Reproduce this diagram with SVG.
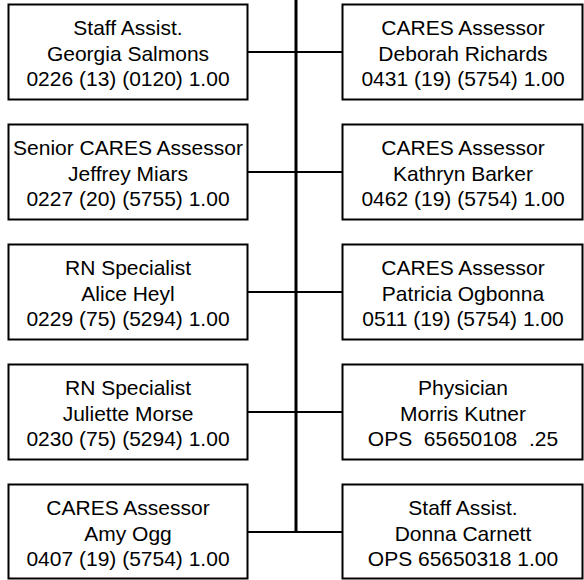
<svg xmlns="http://www.w3.org/2000/svg" width="584" height="580" viewBox="0 0 584 580">
<style>
.box{fill:#fff;stroke:#000;stroke-width:2}
.t{font-family:"Liberation Sans",Arial,sans-serif;font-size:21px;fill:#000;text-anchor:middle;white-space:pre}
.c{stroke:#000;stroke-width:2;fill:none}
.v{stroke:#000;stroke-width:3;fill:none}
</style>
<rect width="584" height="580" fill="#fff"/>
<g id="connectors">
<line class="v" x1="296" y1="0" x2="296" y2="532"/>
<line class="c" x1="247.5" y1="52" x2="342.5" y2="52"/>
<line class="c" x1="247.5" y1="172" x2="342.5" y2="172"/>
<line class="c" x1="247.5" y1="292" x2="342.5" y2="292"/>
<line class="c" x1="247.5" y1="412" x2="342.5" y2="412"/>
<line class="c" x1="247.5" y1="532" x2="342.5" y2="532"/>
</g>
<g id="n1"><rect class="box" x="8.5" y="4.5" width="239" height="95"/>
<text class="t" x="128" y="35">Staff Assist.</text><text class="t" x="128" y="60.5">Georgia Salmons</text><text class="t" x="128" y="86">0226 (13) (0120) 1.00</text></g>
<g id="n2"><rect class="box" x="8.5" y="124.5" width="239" height="95"/>
<text class="t" x="128" y="155">Senior CARES Assessor</text><text class="t" x="128" y="180.5">Jeffrey Miars</text><text class="t" x="128" y="206">0227 (20) (5755) 1.00</text></g>
<g id="n3"><rect class="box" x="8.5" y="244.5" width="239" height="95"/>
<text class="t" x="128" y="275">RN Specialist</text><text class="t" x="128" y="300.5">Alice Heyl</text><text class="t" x="128" y="326">0229 (75) (5294) 1.00</text></g>
<g id="n4"><rect class="box" x="8.5" y="364.5" width="239" height="95"/>
<text class="t" x="128" y="395">RN Specialist</text><text class="t" x="128" y="420.5">Juliette Morse</text><text class="t" x="128" y="446">0230 (75) (5294) 1.00</text></g>
<g id="n5"><rect class="box" x="8.5" y="484.5" width="239" height="94"/>
<text class="t" x="128" y="515">CARES Assessor</text><text class="t" x="128" y="540.5">Amy Ogg</text><text class="t" x="128" y="566">0407 (19) (5754) 1.00</text></g>
<g id="n6"><rect class="box" x="342.5" y="4.5" width="240" height="95"/>
<text class="t" x="463" y="35">CARES Assessor</text><text class="t" x="463" y="60.5">Deborah Richards</text><text class="t" x="463" y="86">0431 (19) (5754) 1.00</text></g>
<g id="n7"><rect class="box" x="342.5" y="124.5" width="240" height="95"/>
<text class="t" x="463" y="155">CARES Assessor</text><text class="t" x="463" y="180.5">Kathryn Barker</text><text class="t" x="463" y="206">0462 (19) (5754) 1.00</text></g>
<g id="n8"><rect class="box" x="342.5" y="244.5" width="240" height="95"/>
<text class="t" x="463" y="275">CARES Assessor</text><text class="t" x="463" y="300.5">Patricia Ogbonna</text><text class="t" x="463" y="326">0511 (19) (5754) 1.00</text></g>
<g id="n9"><rect class="box" x="342.5" y="364.5" width="240" height="95"/>
<text class="t" x="463" y="395">Physician</text><text class="t" x="463" y="420.5">Morris Kutner</text><text class="t" x="463" y="446" xml:space="preserve">OPS  65650108  .25</text></g>
<g id="n10"><rect class="box" x="342.5" y="484.5" width="240" height="94"/>
<text class="t" x="463" y="515">Staff Assist.</text><text class="t" x="463" y="540.5">Donna Carnett</text><text class="t" x="463" y="566">OPS 65650318 1.00</text></g>
</svg>
